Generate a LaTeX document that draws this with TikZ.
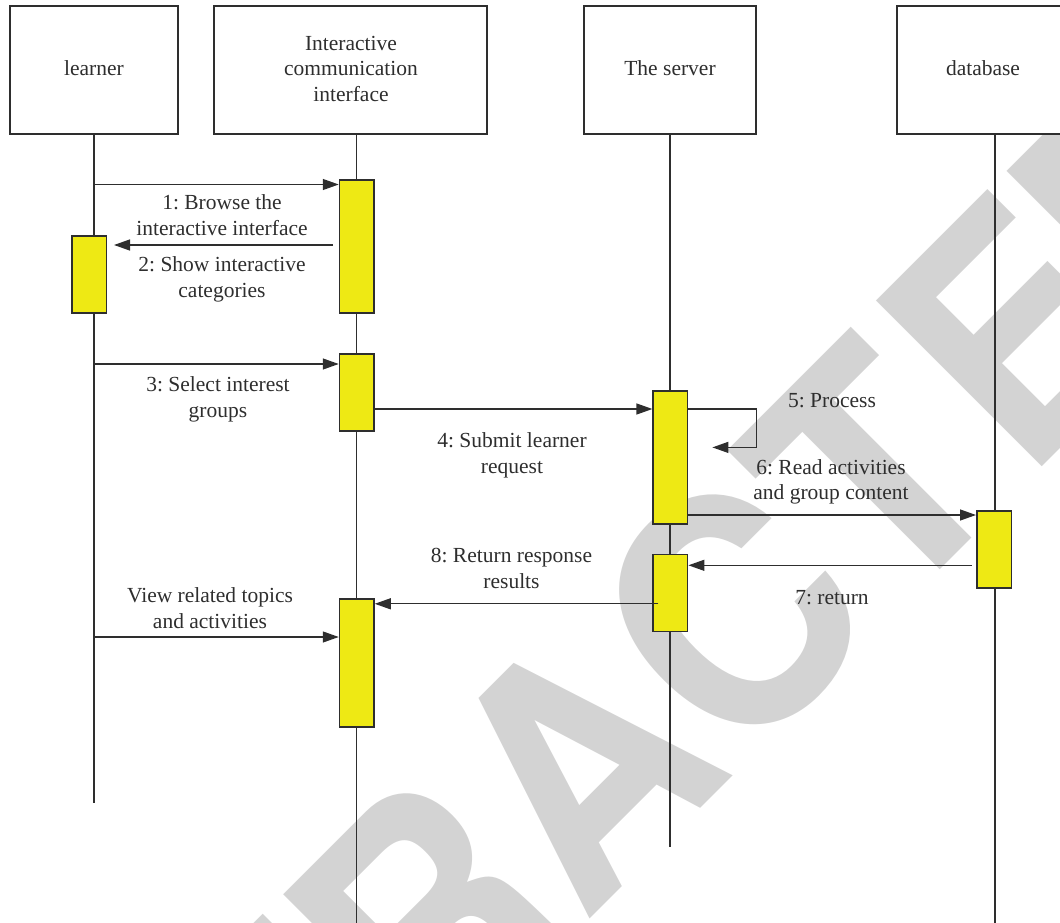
\documentclass[tikz,border=0pt]{standalone}
\usepackage{fontspec}
\setmainfont{Liberation Serif}
\newfontfamily\stampfont[FakeStretch=0.93,Kerning=Off]{TeX Gyre Heros}
\usetikzlibrary{arrows.meta}
\frenchspacing

\definecolor{ink}{HTML}{2E2E2E}
\definecolor{actfill}{RGB}{238,233,20}
\definecolor{stampgray}{HTML}{D3D3D3}

\newcommand\lblfont{\fontsize{21.5}{25.6}\selectfont}

\tikzset{
  headbox/.style={draw=ink, line width=1.5pt, fill=white, inner sep=0pt, minimum height=128pt},
  headtext/.style={inner sep=0pt, align=center, font=\lblfont, text=ink},
  lifeline/.style={draw=ink, line width=1.2pt},
  act/.style={draw=ink, line width=1.5pt, fill=actfill, inner sep=0pt, minimum width=34.5pt},
  msg/.style={draw=ink, line width=1.3pt, -{Triangle[length=16pt,width=11pt]}},
  lbl/.style={inner sep=0pt, align=center, font=\lblfont, text=ink},
  stamp/.style={inner sep=0pt, text=stampgray, font=\stampfont\bfseries\fontsize{321.7}{322}\selectfont},
}

\begin{document}
\begin{tikzpicture}[x=1pt,y=-1pt]
\useasboundingbox (0,0) rectangle (1060,923);
\clip (0,0) rectangle (1060,923);

% background stamp, set along the 45 degree diagonal
\node[stamp, anchor=base west, rotate=45] (stampword) at (8.8,1500.9) {RETRACT\kern9pt E\kern-15pt D};

% lifelines
\coordinate (llL) at (94,134);
\coordinate (llI) at (356.5,134);
\coordinate (llS) at (670,134);
\coordinate (llD) at (995,134);
\draw[lifeline] (llL) -- ++(0,669);
\draw[lifeline] (llI) -- ++(0,800);
\draw[lifeline] (llS) -- ++(0,713);
\draw[lifeline] (llD) -- ++(0,800);

% participant boxes
\node[headbox, minimum width=168pt] (learner) at (94,70) {};
\node[headbox, minimum width=273pt] (iface) at (350.5,70) {};
\node[headbox, minimum width=172pt] (server) at (670,70) {};
\node[headbox, minimum width=172pt] (db) at (983,70) {};
\node[headtext] (learnerT) at (94,68.6) {learner};
\node[headtext] (ifaceT) at (351,68.6) {Interactive\\communication\\interface};
\node[headtext] (serverT) at (670,68.6) {The server};
\node[headtext] (dbT) at (983,68.6) {database};

% activation bars
\node[act, minimum height=77pt]  (LA)  at (89.2,274.5) {};
\node[act, minimum height=133pt] (IA1) at (356.75,246.5) {};
\node[act, minimum height=77pt]  (IA2) at (356.75,392.5) {};
\node[act, minimum height=128pt] (IA3) at (356.75,663) {};
\node[act, minimum height=133pt] (SA1) at (670.4,457.5) {};
\node[act, minimum height=77pt]  (SA2) at (670.4,593) {};
\node[act, minimum height=77pt]  (DA)  at (994,549.3) {};

% messages
\coordinate (m1) at (94,184.5);
\draw[msg] (m1) -- (m1 -| IA1.west);
\coordinate (m2a) at (333,245);
\coordinate (m2b) at (114,245);
\draw[msg] (m2a) -- (m2b);
\coordinate (m3) at (94,364);
\draw[msg] (m3) -- (m3 -| IA2.west);
\coordinate (m4) at (374,409);
\draw[msg] (m4 -| IA2.east) -- (m4 -| SA1.west);
\draw[msg] (m4 -| SA1.east) -- ++(68,0) -- ++(0,38.4) -- ++(-44,0);
\coordinate (m6) at (687,515);
\draw[msg] (m6 -| SA1.east) -- (m6 -| DA.west);
\coordinate (m7) at (971.6,565.3);
\draw[msg] (m7) -- (m7 -| SA2.east);
\coordinate (m8) at (658.4,603.8);
\draw[msg] (m8) -- (m8 -| IA3.east);
\coordinate (m9) at (94,637);
\draw[msg] (m9) -- (m9 -| IA3.west);

% message labels
\node[lbl] (t1) at (222,215) {1: Browse the\\interactive interface};
\node[lbl] (t2) at (222,279.4) {2: Show interactive\\categories};
\node[lbl] (t3) at (218,399.6) {3: Select interest\\groups};
\node[lbl] (t4) at (512,455.3) {4: Submit learner\\request};
\node[lbl] (t5) at (832,401) {5: Process};
\node[lbl] (t6) at (831,481.8) {6: Read activities\\and group content};
\node[lbl] (t7) at (832,597.7) {7: return};
\node[lbl] (t8) at (511.5,568.3) {8: Return response\\results};
\node[lbl] (t9) at (210,608.4) {View related topics\\and activities};
\end{tikzpicture}
\end{document}
